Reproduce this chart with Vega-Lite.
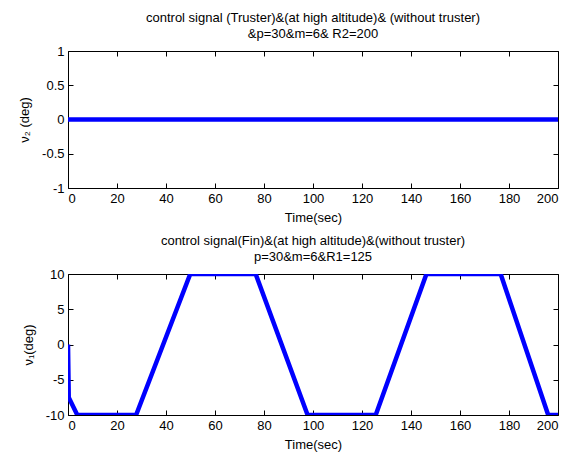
{
  "$schema": "https://vega.github.io/schema/vega-lite/v6.json",
  "background": "white",
  "padding": {"left": 18, "top": 11, "right": 5, "bottom": 5},
  "datasets": {
    "top": [
      {"t": 0, "v": 0},
      {"t": 200, "v": 0}
    ],
    "bottom": [
      {"t": 0, "v": 0},
      {"t": 0.3, "v": -7.5},
      {"t": 3.8, "v": -10},
      {"t": 27.8, "v": -10},
      {"t": 49.9, "v": 10},
      {"t": 76.6, "v": 10},
      {"t": 97.8, "v": -10},
      {"t": 125.6, "v": -10},
      {"t": 146.3, "v": 10},
      {"t": 176.6, "v": 10},
      {"t": 196, "v": -10},
      {"t": 200, "v": -10}
    ]
  },
  "config": {
    "font": "Liberation Sans",
    "view": {"stroke": "black", "strokeWidth": 1},
    "axis": {
      "domain": false,
      "grid": false,
      "ticks": true,
      "tickColor": "black",
      "tickSize": -5,
      "labelColor": "black",
      "labelFont": "Liberation Sans",
      "labelFontSize": 13,
      "labelPadding": 9,
      "titleFont": "Liberation Sans",
      "titleFontSize": 13,
      "titleFontWeight": "normal",
      "titleColor": "black"
    },
    "title": {
      "font": "Liberation Sans",
      "fontSize": 13,
      "fontWeight": "normal",
      "color": "black",
      "anchor": "middle",
      "offset": 4,
      "lineHeight": 16
    }
  },
  "spacing": 9,
  "vconcat": [
    {
      "width": 490,
      "height": 137,
      "title": {"text": ["control signal (Truster)&(at high altitude)& (without truster)", "&p=30&m=6& R2=200"]},
      "data": {"name": "top"},
      "layer": [
        {
          "mark": {"type": "line", "color": "#0000ff", "strokeWidth": 4.5, "clip": true},
          "encoding": {
            "x": {"field": "t", "type": "quantitative", "scale": {"domain": [0, 200], "nice": false, "zero": false},
                  "axis": {"orient": "bottom", "title": "Time(sec)", "values": [0,20,40,60,80,100,120,140,160,180,200], "titlePadding": 6}},
            "y": {"field": "v", "type": "quantitative", "scale": {"domain": [-1, 1], "nice": false, "zero": false},
                  "axis": {"orient": "left", "title": "ν₂ (deg)", "values": [-1,-0.5,0,0.5,1], "format": "~r", "labelExpr": "replace(datum.label, '\u2212', '-')", "titlePadding": 10}}
          }
        },
        {
          "mark": {"type": "line", "opacity": 0},
          "encoding": {
            "x": {"field": "t", "type": "quantitative", "axis": {"orient": "top", "labels": false, "title": null, "values": [0,20,40,60,80,100,120,140,160,180,200]}},
            "y": {"field": "v", "type": "quantitative", "axis": {"orient": "right", "labels": false, "title": null, "values": [-1,-0.5,0,0.5,1]}}
          }
        }
      ]
    },
    {
      "width": 490,
      "height": 141,
      "title": {"text": ["control signal(Fin)&(at high altitude)&(without truster)", "p=30&m=6&R1=125"]},
      "data": {"name": "bottom"},
      "layer": [
        {
          "mark": {"type": "line", "color": "#0000ff", "strokeWidth": 4.5, "clip": true},
          "encoding": {
            "x": {"field": "t", "type": "quantitative", "scale": {"domain": [0, 200], "nice": false, "zero": false},
                  "axis": {"orient": "bottom", "title": "Time(sec)", "values": [0,20,40,60,80,100,120,140,160,180,200], "titlePadding": 6}},
            "y": {"field": "v", "type": "quantitative", "scale": {"domain": [-10, 10], "nice": false, "zero": false},
                  "axis": {"orient": "left", "title": "ν₁(deg)", "values": [-10,-5,0,5,10], "format": "~r", "labelExpr": "replace(datum.label, '\u2212', '-')", "titlePadding": 10}}
          }
        },
        {
          "mark": {"type": "line", "opacity": 0},
          "encoding": {
            "x": {"field": "t", "type": "quantitative", "axis": {"orient": "top", "labels": false, "title": null, "values": [0,20,40,60,80,100,120,140,160,180,200]}},
            "y": {"field": "v", "type": "quantitative", "axis": {"orient": "right", "labels": false, "title": null, "values": [-10,-5,0,5,10]}}
          }
        }
      ]
    }
  ]
}
